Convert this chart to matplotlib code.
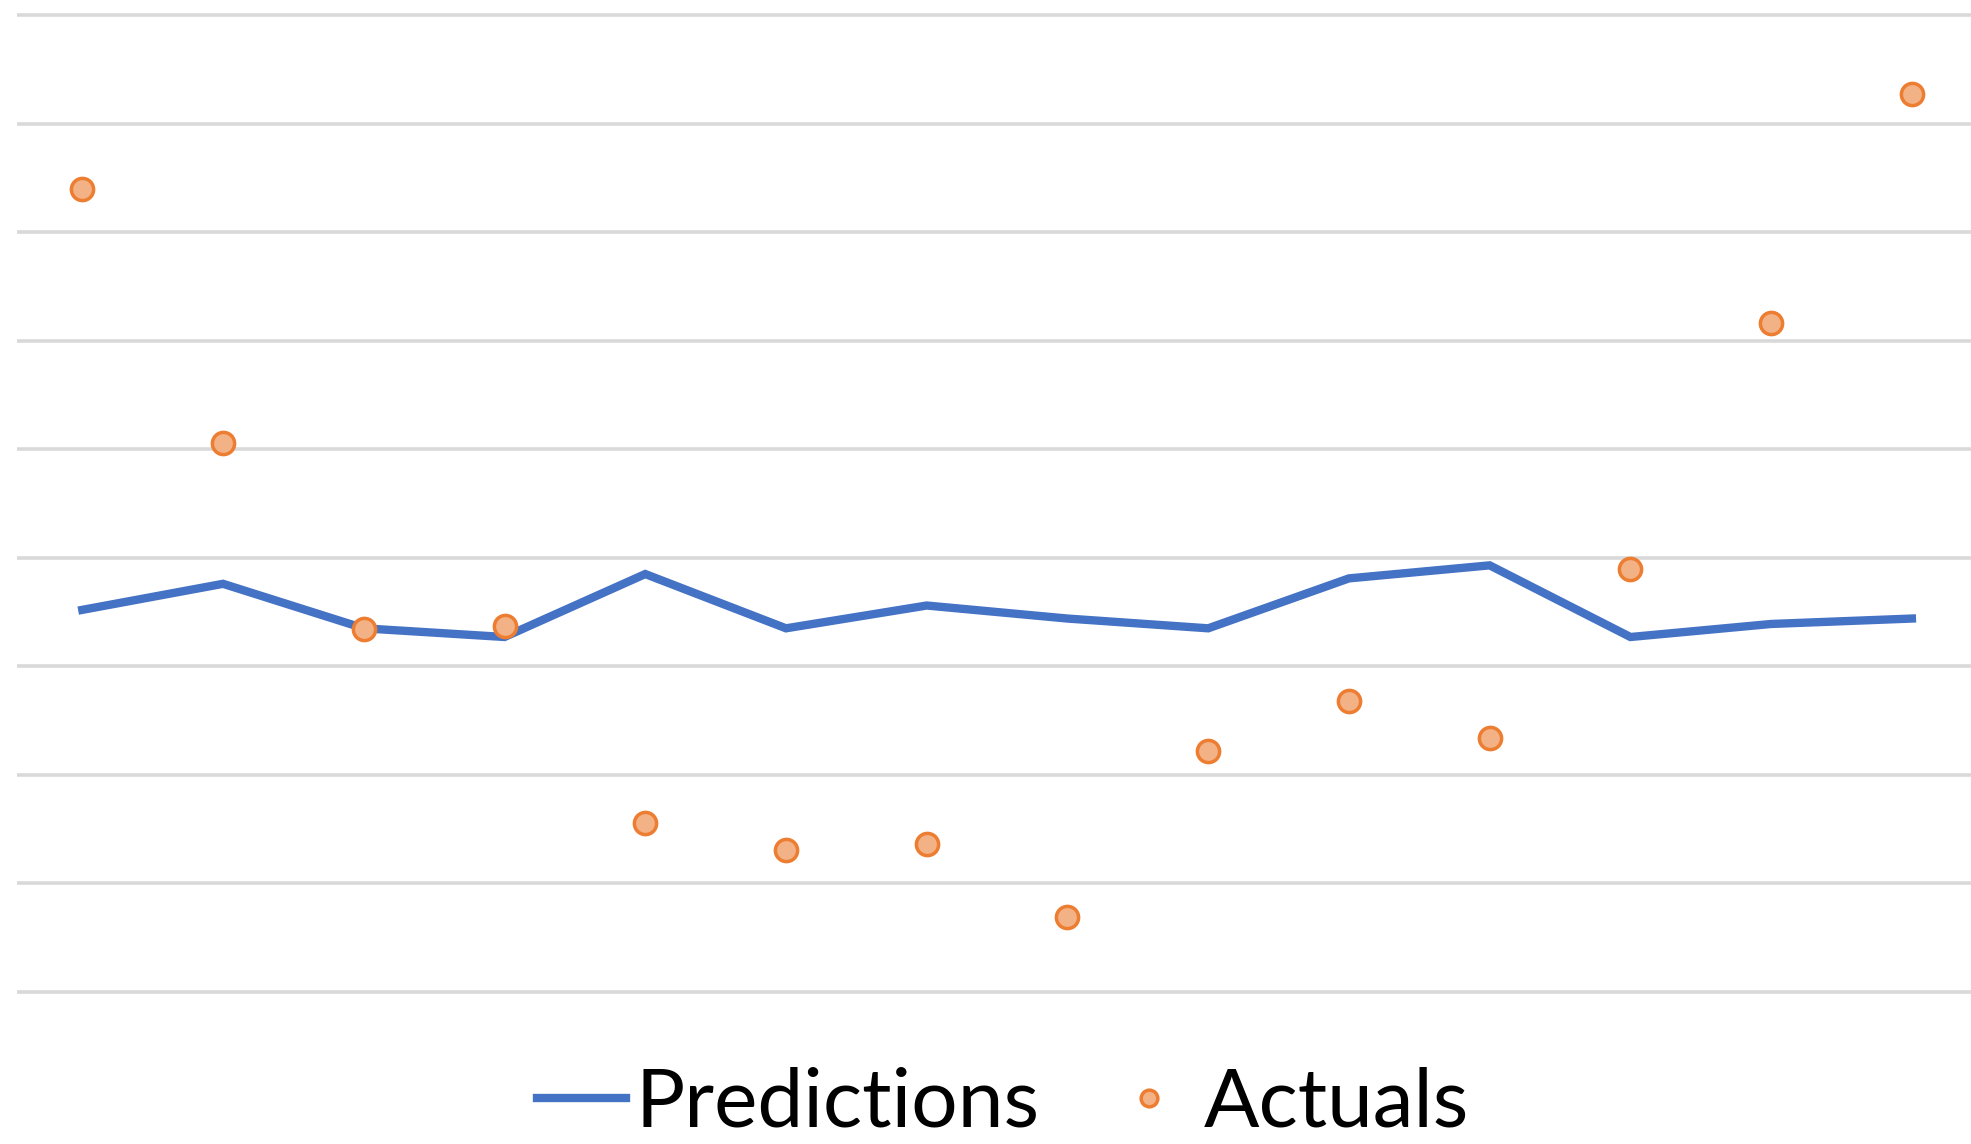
import matplotlib
matplotlib.use("Agg")
import matplotlib.pyplot as plt
import numpy as np

# one value per period, 14 periods
periods = np.arange(1, 15)
predictions = [3.52, 3.76, 3.35, 3.27, 3.85, 3.35, 3.56, 3.44, 3.35, 3.81, 3.93, 3.27, 3.39, 3.44]
actuals = [7.40, 5.06, 3.34, 3.37, 1.56, 1.31, 1.36, 0.69, 2.22, 2.68, 2.34, 3.90, 6.16, 8.27]

plt.rcParams['font.family'] = ['Lato', 'DejaVu Sans']

fig = plt.figure(figsize=(19.71, 11.44), dpi=100)
ax = fig.add_axes([17 / 1971, 0.1139, 1 - 17 / 1971, 0.892])

ax.plot(periods, predictions, color='#4472C4', linewidth=6, solid_joinstyle='miter',
        label='Predictions', zorder=3)
ax.plot(periods, actuals, linestyle='none', marker='o', markersize=16,
        markerfacecolor='#F2B285', markeredgecolor='#ED7D31', markeredgewidth=2.5,
        label='Actuals', zorder=4)

ax.set_xlim(0.536, 14.42)
ax.set_ylim(-0.2, 9.2)
ax.set_yticks(range(0, 10))
ax.set_xticks([])
ax.grid(axis='y', color='#D9D9D9', linewidth=2.6)
ax.tick_params(left=False, labelleft=False)
for s in ax.spines.values():
    s.set_visible(False)

fig.legend(loc='center', bbox_to_anchor=(1003 / 1971, 0.035), ncol=2, frameon=False,
           fontsize=59, handlelength=1.08, handletextpad=0.12, columnspacing=0.8,
           markerscale=0.75, borderpad=0.2)

fig.savefig('out.png', dpi=100, facecolor='white')
